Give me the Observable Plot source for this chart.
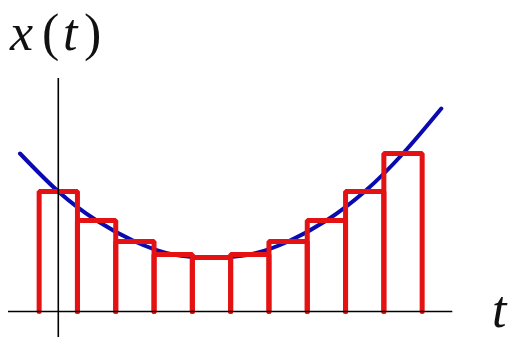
<!DOCTYPE html>
<html>
<head>
<meta charset="utf-8">
<script src="https://cdn.jsdelivr.net/npm/d3@7"></script>
<script src="https://cdn.jsdelivr.net/npm/@observablehq/plot@0.6"></script>
<style>
  html, body { margin: 0; padding: 0; background: #fff; }
</style>
</head>
<body>
<div id="chart"></div>
<script>
// Sample instants (bar centres) and held values
const barT = [0, 1, 2, 3, 4, 5, 6, 7, 8, 9];
const barH = [12.0, 9.1, 7.0, 5.7, 5.4, 5.7, 7.0, 9.1, 12.0, 15.8];
const barWidth = 1;

// Continuous signal x(t)
const curveT = [-1, 0, 1, 2, 3, 4, 5, 6, 7, 8, 9, 10];
const curveH = [15.8, 12.0, 9.1, 7.0, 5.7, 5.4, 5.7, 7.0, 9.1, 12.0, 15.8, 20.3];

// Axis extents
const tDomain = [-1.3, 10.3];
const yDomain = [-2.6, 23.3];

const curve = curveT.map((t, i) => ({t, h: curveH[i]}));
const steps = barT.flatMap((t, i) => [
  {k: i, t: t - barWidth / 2, h: 0},
  {k: i, t: t - barWidth / 2, h: barH[i]},
  {k: i, t: t + barWidth / 2, h: barH[i]},
  {k: i, t: t + barWidth / 2, h: 0}
]);

const plot = Plot.plot({
  width: 515,
  height: 339,
  marginLeft: 8,
  marginRight: 62.7,
  marginTop: 78,
  marginBottom: 2,
  x: {domain: tDomain, axis: null},
  y: {domain: yDomain, axis: null},
  marks: [
    Plot.line(curve, {x: "t", y: "h", curve: "natural", stroke: "#0a0ab0", strokeWidth: 4}),
    Plot.line(steps, {x: "t", y: "h", z: "k", stroke: "#e41212", strokeWidth: 5, strokeLinejoin: "miter", curve: "linear"}),
    Plot.ruleY([0], {x1: tDomain[0], x2: tDomain[1], stroke: "#000", strokeWidth: 1.6}),
    Plot.ruleX([0], {y1: yDomain[0], y2: yDomain[1], stroke: "#000", strokeWidth: 1.6})
  ]
});

document.getElementById("chart").appendChild(plot);

const svg = d3.select(plot);
const lab = svg.append("text")
  .attr("y", 50)
  .attr("text-anchor", "start")
  .attr("font-family", "'Liberation Serif', 'DejaVu Serif', serif")
  .attr("font-size", 52)
  .attr("fill", "#111");
lab.append("tspan").attr("x", 10).attr("font-style", "italic").text("x");
lab.append("tspan").attr("x", 42).text("(");
lab.append("tspan").attr("x", 63).attr("font-style", "italic").text("t");
lab.append("tspan").attr("x", 84).text(")");

svg.append("text")
  .attr("x", 492)
  .attr("y", 327)
  .attr("text-anchor", "start")
  .attr("font-family", "'Liberation Serif', 'DejaVu Serif', serif")
  .attr("font-style", "italic")
  .attr("font-size", 52)
  .attr("fill", "#111")
  .text("t");
</script>
</body>
</html>
